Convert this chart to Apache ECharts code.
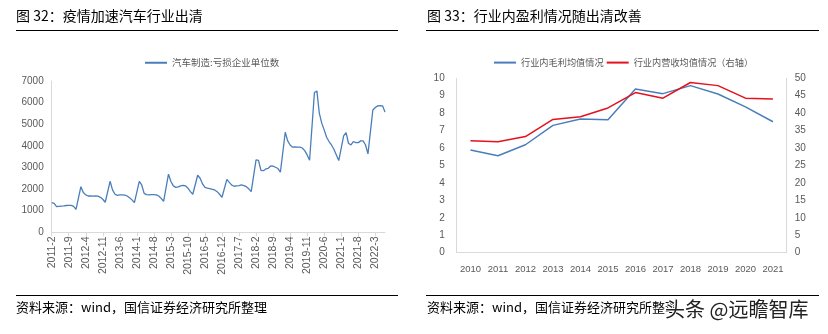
<!DOCTYPE html>
<html><head><meta charset="utf-8">
<script src="https://cdn.jsdelivr.net/npm/echarts@6/dist/echarts.min.js"></script>
<style>html,body{margin:0;padding:0;background:#fff}#c{width:828px;height:334px}</style>
</head><body><div id="c"></div>
<script>
// ---- Left chart data: 汽车制造:亏损企业单位数 (monthly, Jan not published)
const lossStartYear = 2011, lossStartMonth = 2;
const loss2011 = [1370,1340,1190,1200,1210,1220,1240,1250,1250,1200,1060];
const loss2012 = [null,2110,1840,1730,1680,1680,1670,1680,1670,1620,1530,1390];
const loss2013 = [null,2360,1960,1760,1710,1730,1730,1720,1680,1600,1500,1370];
const loss2014 = [null,2360,2190,1800,1740,1730,1740,1740,1730,1680,1570,1435];
const loss2015 = [null,2690,2350,2145,2080,2100,2150,2175,2150,2040,1880,1760];
const loss2016 = [null,2640,2500,2240,2080,2040,2020,1990,1960,1880,1760,1620];
const loss2017 = [null,2450,2310,2180,2130,2150,2160,2190,2160,2110,2010,1880];
const loss2018 = [null,3350,3330,2870,2850,2930,2960,3070,3060,3010,2950,2780];
const loss2019 = [null,4630,4230,4040,3940,3950,3940,3940,3900,3780,3580,3330];
const loss2020 = [null,6470,6540,5510,5050,4740,4400,4200,4040,3840,3580,3320];
const loss2021 = [null,4460,4610,4120,4040,4200,4150,4150,4230,4230,4040,3630];
const loss2022 = [null,5660,5770,5850,5860,5850,5560];
const lossValues = [].concat(loss2011,loss2012,loss2013,loss2014,loss2015,loss2016,loss2017,loss2018,loss2019,loss2020,loss2021,loss2022);
const lossCategories = [];
{ let y = lossStartYear, m = lossStartMonth;
  for (let i = 0; i < lossValues.length; i++) { lossCategories.push(y + '-' + m); m++; if (m > 12) { m = 1; y++; } } }
const lossYTicks = [0,1000,2000,3000,4000,5000,6000,7000];

// ---- Right chart data
const years = ['2010','2011','2012','2013','2014','2015','2016','2017','2018','2019','2020','2021'];
const grossMargin = [5.89,5.56,6.19,7.30,7.67,7.63,9.39,9.12,9.58,9.10,8.36,7.51];
const revenue = [32.1,31.8,33.3,38.2,39.0,41.5,45.9,44.3,48.8,47.9,44.3,44.1];

const FONT = '"Noto Sans CJK SC", "Noto Sans", sans-serif';
const NUMFONT = '"Liberation Sans", Arial, sans-serif';
const labelColor = '#595959';
const chart = echarts.init(document.getElementById('c'), null, {renderer:'canvas'});
chart.setOption({
  animation: false,
  textStyle: {fontFamily: FONT},
  legend: [
    {left: 140, top: 53, itemWidth: 22, itemHeight: 2, icon: 'rect', itemGap: 4,
     textStyle: {fontSize: 9.5, color: labelColor, fontFamily: FONT},
     data: ['汽车制造:亏损企业单位数']},
    {left: 489, top: 53, itemWidth: 22, itemHeight: 2, icon: 'rect', itemGap: 3,
     textStyle: {fontSize: 9.2, color: labelColor, fontFamily: FONT},
     data: ['行业内毛利均值情况','行业内营收均值情况（右轴）']}
  ],
  grid: [
    {left: 51.7, right: 443, top: 81, bottom: 101.7},
    {left: 456.7, right: 41.3, top: 78.3, bottom: 81.3}
  ],
  xAxis: [
    {type: 'category', gridIndex: 0, data: lossCategories, boundaryGap: false,
     axisLine: {lineStyle: {color: '#d9d9d9'}},
     axisTick: {interval: 6, length: 4, lineStyle: {color: '#d9d9d9'}},
     axisLabel: {interval: 6, rotate: 90, fontSize: 10.5, color: labelColor, margin: 4, fontFamily: NUMFONT}},
    {type: 'category', gridIndex: 1, data: years, boundaryGap: true,
     axisLine: {lineStyle: {color: '#d9d9d9'}},
     axisTick: {show: false},
     axisLabel: {interval: 0, fontSize: 9.5, color: labelColor, margin: 12, fontFamily: NUMFONT}}
  ],
  yAxis: [
    {type: 'value', gridIndex: 0, min: lossYTicks[0], max: lossYTicks[lossYTicks.length-1], interval: 1000,
     axisLine: {show: true, lineStyle: {color: '#d9d9d9'}}, axisTick: {show: false},
     splitLine: {show: false},
     axisLabel: {fontSize: 10, color: labelColor, margin: 8, fontFamily: NUMFONT, formatter: v => String(v)}},
    {type: 'value', gridIndex: 1, min: 0, max: 10, interval: 1,
     axisLine: {show: true, lineStyle: {color: '#d9d9d9'}}, axisTick: {show: false},
     splitLine: {show: false}, axisLabel: {fontSize: 10, color: labelColor, margin: 12, fontFamily: NUMFONT}},
    {type: 'value', gridIndex: 1, position: 'right', min: 0, max: 50, interval: 5,
     axisLine: {show: true, lineStyle: {color: '#d9d9d9'}}, axisTick: {show: false},
     splitLine: {show: false}, axisLabel: {fontSize: 10, color: labelColor, margin: 8, fontFamily: NUMFONT}}
  ],
  series: [
    {name: '汽车制造:亏损企业单位数', type: 'line', xAxisIndex: 0, yAxisIndex: 0,
     data: lossValues, connectNulls: true, showSymbol: false, symbol: 'none',
     lineStyle: {color: '#4a7ebb', width: 1.3}, itemStyle: {color: '#4a7ebb'}},
    {name: '行业内毛利均值情况', type: 'line', xAxisIndex: 1, yAxisIndex: 1,
     data: grossMargin, symbol: 'none',
     lineStyle: {color: '#4a7ebb', width: 1.5}, itemStyle: {color: '#4a7ebb'}},
    {name: '行业内营收均值情况（右轴）', type: 'line', xAxisIndex: 1, yAxisIndex: 2,
     data: revenue, symbol: 'none',
     lineStyle: {color: '#e3121e', width: 1.5}, itemStyle: {color: '#e3121e'}}
  ],
  graphic: [
    {type: 'text', left: 16, top: 9, style: {text: '图 32：疫情加速汽车行业出清', font: '14px ' + FONT, fill: '#000'}},
    {type: 'line', shape: {x1: 16, y1: 30.5, x2: 398, y2: 30.5}, style: {stroke: '#000', lineWidth: 1.2}},
    {type: 'line', shape: {x1: 16, y1: 295.5, x2: 398, y2: 295.5}, style: {stroke: '#000', lineWidth: 1.2}},
    {type: 'text', left: 16, top: 301, style: {text: '资料来源：wind，国信证券经济研究所整理', font: '13px ' + FONT, fill: '#000'}},
    {type: 'text', left: 427, top: 9, style: {text: '图 33：行业内盈利情况随出清改善', font: '14px ' + FONT, fill: '#000'}},
    {type: 'line', shape: {x1: 426, y1: 30.5, x2: 819, y2: 30.5}, style: {stroke: '#000', lineWidth: 1.2}},
    {type: 'line', shape: {x1: 426, y1: 295.5, x2: 819, y2: 295.5}, style: {stroke: '#000', lineWidth: 1.2}},
    {type: 'text', left: 427, top: 301, style: {text: '资料来源：wind，国信证券经济研究所整理', font: '13px ' + FONT, fill: '#000'}},
    {type: 'text', left: 664, top: 298, z: 100, style: {text: '头条 @远瞻智库', font: '20px ' + FONT, fill: '#222', stroke: '#fff', lineWidth: 2}}
  ]
});
</script></body></html>
